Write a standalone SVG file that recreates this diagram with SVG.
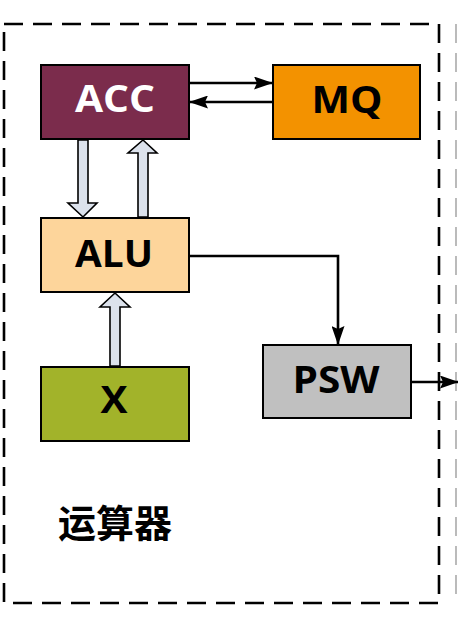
<svg xmlns="http://www.w3.org/2000/svg" width="458" height="617" viewBox="0 0 458 617">
<defs>
<marker id="ah" markerWidth="19" markerHeight="13" refX="18" refY="6.5" orient="auto" markerUnits="userSpaceOnUse">
<path d="M0,0 L19,6.5 L0,13 L3,6.5 Z" fill="#000"/>
</marker>
<style>
.box{stroke:#000;stroke-width:2}
.lbl{font-family:"Open Sans","Liberation Sans",sans-serif;font-weight:bold;font-size:38px;text-anchor:middle}
.hol{fill:#DCE2EC;stroke:#000;stroke-width:1.6;stroke-linejoin:miter}
.ln{fill:none;stroke:#000;stroke-width:2.6}
</style>
</defs>
<rect width="458" height="617" fill="#fff"/>
<g id="frame">
<rect x="4" y="24" width="435" height="579" fill="none" stroke="#000" stroke-width="2.6" stroke-dasharray="19,10"/>
<line x1="456" y1="24" x2="456" y2="603" stroke="#aaa" stroke-width="1.6" stroke-dasharray="19,10"/>
</g>
<g id="ACC">
<rect class="box" x="41" y="65" width="148" height="74" fill="#7B2C4C"/>
<text class="lbl" x="115" y="112" fill="#fff" textLength="80" lengthAdjust="spacingAndGlyphs">ACC</text>
</g>
<g id="MQ">
<rect class="box" x="273" y="65" width="147" height="74" fill="#F39200"/>
<text class="lbl" x="347" y="113" fill="#000" textLength="71" lengthAdjust="spacingAndGlyphs">MQ</text>
</g>
<g id="ALU">
<rect class="box" x="41" y="218" width="148" height="74" fill="#FDD59B"/>
<text class="lbl" x="114" y="267" fill="#000" textLength="78" lengthAdjust="spacingAndGlyphs">ALU</text>
</g>
<g id="X">
<rect class="box" x="41" y="367" width="148" height="74" fill="#A2B32A"/>
<text class="lbl" x="114" y="413" fill="#000" textLength="27" lengthAdjust="spacingAndGlyphs">X</text>
</g>
<g id="PSW">
<rect class="box" x="263" y="345" width="148" height="73" fill="#C0C0C0"/>
<text class="lbl" x="336" y="393" fill="#000" textLength="87" lengthAdjust="spacingAndGlyphs">PSW</text>
</g>
<g id="label">
<text x="58" y="537" font-family="'Noto Sans CJK SC',sans-serif" font-weight="bold" font-size="38" fill="#000">运算器</text>
</g>
<g id="connectors">
<line class="ln" x1="189" y1="83" x2="272" y2="83" marker-end="url(#ah)"/>
<line class="ln" x1="273" y1="102" x2="190" y2="102" marker-end="url(#ah)"/>
<path class="ln" d="M189,256 H338 V344" marker-end="url(#ah)"/>
<line class="ln" x1="411" y1="382" x2="458" y2="382" marker-end="url(#ah)"/>
<path class="hol" d="M78,140 H88 V203 H97 L83,217 L68,203 H78 Z"/>
<path class="hol" d="M138,217 V153 H128 L143,140 L157,153 H148 V217 Z"/>
<path class="hol" d="M110,366 V307 H100 L115,293 L130,307 H120 V366 Z"/>
</g>
</svg>
